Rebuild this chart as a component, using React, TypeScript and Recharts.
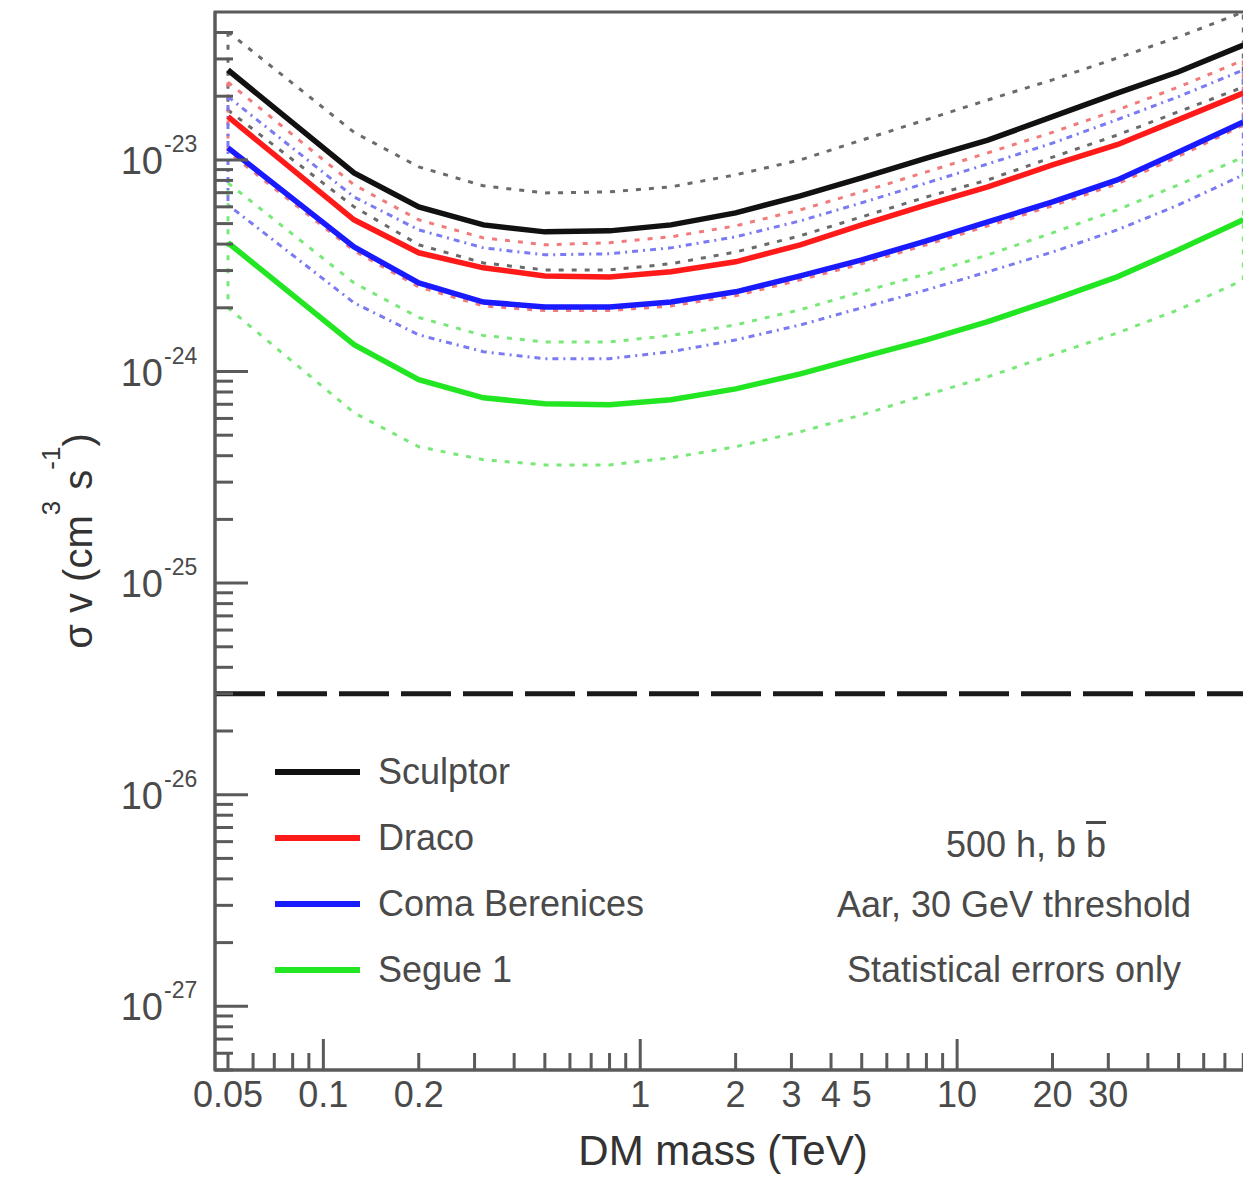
import React from "react";
import { LineChart, Line, XAxis, YAxis, ReferenceLine, ReferenceArea, Legend } from "recharts";

// DM mass grid (TeV)
const mass = [0.05, 0.125, 0.2, 0.32, 0.5, 0.8, 1.25, 2, 3.2, 5, 8, 12.5, 20, 32, 50, 80];

// sigma v limits (cm^3 s^-1), solid = median, Hi/Lo = dotted band edges
const sculptor = [2.66e-23, 8.68e-24, 6.0e-24, 4.93e-24, 4.57e-24, 4.62e-24, 4.93e-24, 5.62e-24, 6.76e-24, 8.22e-24, 1.02e-23, 1.24e-23, 1.6e-23, 2.07e-23, 2.61e-23, 3.49e-23];
const sculptorHi = [4.03e-23, 1.35e-23, 9.27e-24, 7.54e-24, 6.98e-24, 7.06e-24, 7.46e-24, 8.5e-24, 1.0e-23, 1.24e-23, 1.55e-23, 1.92e-23, 2.39e-23, 3.03e-23, 3.81e-23, 5.0e-23];
const sculptorLo = [1.72e-23, 6.0e-24, 3.97e-24, 3.26e-24, 3.02e-24, 3.02e-24, 3.23e-24, 3.67e-24, 4.38e-24, 5.38e-24, 6.68e-24, 8.04e-24, 1.03e-23, 1.31e-23, 1.69e-23, 2.21e-23];

const draco = [1.6e-23, 5.21e-24, 3.64e-24, 3.09e-24, 2.83e-24, 2.8e-24, 2.96e-24, 3.3e-24, 3.97e-24, 4.93e-24, 6.13e-24, 7.46e-24, 9.47e-24, 1.18e-23, 1.55e-23, 2.07e-23];
const dracoHi = [2.33e-23, 7.62e-24, 5.21e-24, 4.28e-24, 3.97e-24, 4.06e-24, 4.33e-24, 4.88e-24, 5.81e-24, 7.06e-24, 8.78e-24, 1.08e-23, 1.35e-23, 1.72e-23, 2.21e-23, 2.96e-23];
const dracoLo = [1.09e-23, 3.72e-24, 2.51e-24, 2.04e-24, 1.94e-24, 1.94e-24, 2.04e-24, 2.28e-24, 2.71e-24, 3.23e-24, 3.97e-24, 4.88e-24, 6.07e-24, 7.7e-24, 1.04e-23, 1.46e-23];

const coma = [1.14e-23, 3.88e-24, 2.62e-24, 2.13e-24, 2.02e-24, 2.02e-24, 2.13e-24, 2.38e-24, 2.83e-24, 3.37e-24, 4.14e-24, 5.09e-24, 6.34e-24, 8.04e-24, 1.09e-23, 1.51e-23];
const comaHi = [1.99e-23, 6.68e-24, 4.67e-24, 3.84e-24, 3.56e-24, 3.6e-24, 3.84e-24, 4.33e-24, 5.15e-24, 6.27e-24, 7.78e-24, 9.57e-24, 1.2e-23, 1.55e-23, 1.99e-23, 2.66e-23];
const comaLo = [6.13e-24, 2.11e-24, 1.49e-24, 1.24e-24, 1.15e-24, 1.15e-24, 1.24e-24, 1.41e-24, 1.66e-24, 2.0e-24, 2.43e-24, 2.96e-24, 3.67e-24, 4.67e-24, 6.13e-24, 8.5e-24];

const segue = [4.06e-24, 1.34e-24, 9.14e-25, 7.51e-25, 7.04e-25, 6.97e-25, 7.35e-25, 8.28e-25, 9.75e-25, 1.17e-24, 1.41e-24, 1.72e-24, 2.18e-24, 2.8e-24, 3.76e-24, 5.21e-24];
const segueHi = [7.78e-24, 2.62e-24, 1.8e-24, 1.48e-24, 1.38e-24, 1.38e-24, 1.48e-24, 1.66e-24, 1.96e-24, 2.38e-24, 2.89e-24, 3.56e-24, 4.52e-24, 5.81e-24, 7.62e-24, 1.03e-23];
const segueLo = [2.0e-24, 6.38e-25, 4.41e-25, 3.83e-25, 3.62e-25, 3.62e-25, 3.91e-25, 4.41e-25, 5.19e-25, 6.24e-25, 7.76e-25, 9.44e-25, 1.2e-24, 1.52e-24, 1.96e-24, 2.71e-24];

const relicLine = 3e-26;
const xLabels = [0.05, 0.1, 0.2, 1, 2, 3, 4, 5, 10, 20, 30];
const xDomain = [0.0455, 81];
const yDomain = [5e-28, 5e-23];
const noteLines = ["Aar, 30 GeV threshold", "Statistical errors only"];

const W = 1243;
const H = 1170;
const AXIS = "#5a5a5a";
const TXT = "#4a4a4a";
const FONT = '"Liberation Sans", Arial, sans-serif';

const pts = (ys: number[]) => mass.map((m, i) => ({ m, v: ys[i] }));
// closed outline: upper edge left->right, lower edge back, then close
const band = (hi: number[], lo: number[]) => {
  const up = pts(hi);
  return [...up, ...pts(lo).reverse(), up[0]];
};

const solids = [
  { name: "Sculptor", ys: sculptor, color: "#111111" },
  { name: "Draco", ys: draco, color: "#ff1a1a" },
  { name: "Coma Berenices", ys: coma, color: "#1a1aff" },
  { name: "Segue 1", ys: segue, color: "#22e622" },
];

const bands = [
  { key: "sculptorBand", data: band(sculptorHi, sculptorLo), color: "#6a6a6a", dash: "5 8" },
  { key: "dracoBand", data: band(dracoHi, dracoLo), color: "#f27a7a", dash: "5 8" },
  { key: "comaBand", data: band(comaHi, comaLo), color: "#7a7af2", dash: "6 5 2 5" },
  { key: "segueBand", data: band(segueHi, segueLo), color: "#78e878", dash: "5 8" },
];

function logTicks(lo: number, hi: number) {
  const out: number[] = [];
  for (let e = Math.floor(Math.log10(lo)); e <= Math.ceil(Math.log10(hi)); e++) {
    for (let k = 1; k <= 9; k++) {
      const v = Number((k * Math.pow(10, e)).toPrecision(3));
      if (v >= lo * 0.999 && v < hi * 0.999) out.push(v);
    }
  }
  return out;
}

const isDecade = (v: number) => Math.abs(Math.log10(v) - Math.round(Math.log10(v))) < 1e-6;

const xTicks = logTicks(xDomain[0], xDomain[1]);
const yTicks = logTicks(yDomain[0], yDomain[1]);

const XTick = (props: any) => {
  const { x, y, payload } = props;
  const v = payload.value;
  const major = isDecade(v);
  const lab = xLabels.some((l) => Math.abs(l - v) / l < 1e-6);
  return (
    <g>
      <line x1={x} x2={x} y1={y} y2={y - (major ? 31 : 17)} stroke={AXIS} strokeWidth={3} />
      {lab && (
        <text x={x} y={y + 37} textAnchor="middle" fontSize={36} fill={TXT} fontFamily={FONT}>
          {String(v)}
        </text>
      )}
    </g>
  );
};

const YTick = (props: any) => {
  const { x, y, payload } = props;
  const v = payload.value;
  const major = isDecade(v);
  const e = Math.round(Math.log10(v));
  return (
    <g>
      <line x1={x} x2={x + (major ? 33 : 18)} y1={y} y2={y} stroke={AXIS} strokeWidth={3} />
      {major && (
        <text fill={TXT} fontFamily={FONT}>
          <tspan x={x - 52} y={y + 14} textAnchor="end" fontSize={38}>10</tspan>
          <tspan x={x - 51} y={y - 8} fontSize={23}>{`-${-e}`}</tspan>
        </text>
      )}
    </g>
  );
};

const XTitle = (props: any) => {
  const vb = props.viewBox;
  return (
    <text x={vb.x + vb.width / 2 - 7} y={vb.y + 95} textAnchor="middle" fontSize={42} fill="#333" fontFamily={FONT}>
      DM mass (TeV)
    </text>
  );
};

const YTitle = (props: any) => {
  const vb = props.viewBox;
  const cx = vb.x + 84;
  const cy = vb.y + vb.height / 2;
  return (
    <text x={cx} y={cy} transform={`rotate(-90, ${cx}, ${cy})`} textAnchor="middle" fontSize={40} fill="#333" fontFamily={FONT}>
      σ v (cm
      <tspan dy={-32} fontSize={26}>3</tspan>
      <tspan dy={32}> s</tspan>
      <tspan dy={-32} fontSize={26}>-1</tspan>
      <tspan dy={32}>)</tspan>
    </text>
  );
};

const LegendBox = () => (
  <div style={{ position: "relative", width: W, height: H, fontFamily: FONT, color: TXT }}>
    {solids.map((s, i) => (
      <div
        key={s.name}
        style={{ position: "absolute", left: 267, top: 764 + i * 66 - 22, height: 44, display: "flex", alignItems: "center" }}
      >
        <div style={{ width: 85, height: 6, background: s.color }} />
        <span style={{ marginLeft: 18, fontSize: 36, lineHeight: "44px" }}>{s.name}</span>
      </div>
    ))}
    <div style={{ position: "absolute", left: 818, width: 400, top: 837 - 22, height: 44, textAlign: "center", fontSize: 36, lineHeight: "44px" }}>
      500 h, b <span style={{ textDecoration: "overline" }}>b</span>
    </div>
    {noteLines.map((t, i) => (
      <div
        key={t}
        style={{ position: "absolute", left: 806, width: 400, top: 897 + i * 65 - 22, height: 44, textAlign: "center", fontSize: 36, lineHeight: "44px" }}
      >
        {t}
      </div>
    ))}
  </div>
);

export default function App() {
  return (
    <LineChart width={W} height={H} margin={{ top: 4, right: 6, bottom: 0, left: 0 }}>
      <XAxis
        dataKey="m"
        type="number"
        scale="log"
        domain={xDomain}
        allowDataOverflow
        ticks={xTicks}
        interval={0}
        tick={<XTick />}
        tickLine={false}
        tickSize={0}
        tickMargin={0}
        height={108}
        axisLine={{ stroke: AXIS, strokeWidth: 3 }}
        label={<XTitle />}
      />
      <YAxis
        dataKey="v"
        type="number"
        scale="log"
        domain={yDomain}
        allowDataOverflow
        ticks={yTicks}
        interval={0}
        tick={<YTick />}
        tickLine={false}
        tickSize={0}
        tickMargin={0}
        width={207}
        axisLine={{ stroke: AXIS, strokeWidth: 3 }}
        label={<YTitle />}
      />
      <ReferenceArea
        x1={xDomain[0]}
        x2={xDomain[1]}
        y1={yDomain[0]}
        y2={yDomain[1]}
        fill="none"
        stroke={AXIS}
        strokeWidth={3}
      />
      {bands.map((b) => (
        <Line
          key={b.key}
          data={b.data}
          dataKey="v"
          type="linear"
          stroke={b.color}
          strokeWidth={3}
          strokeDasharray={b.dash}
          dot={false}
          activeDot={false}
          legendType="none"
          isAnimationActive={false}
        />
      ))}
      {solids.map((s) => (
        <Line
          key={s.name}
          name={s.name}
          data={pts(s.ys)}
          dataKey="v"
          type="linear"
          stroke={s.color}
          strokeWidth={5.5}
          dot={false}
          activeDot={false}
          isAnimationActive={false}
        />
      ))}
      <ReferenceLine y={relicLine} stroke="#1a1a1a" strokeWidth={5} strokeDasharray="50 12" />
      <Legend
        layout="vertical"
        align="center"
        verticalAlign="middle"
        wrapperStyle={{ left: 0, top: 0, width: W, height: H, pointerEvents: "none" }}
        content={() => <LegendBox />}
      />
    </LineChart>
  );
}
